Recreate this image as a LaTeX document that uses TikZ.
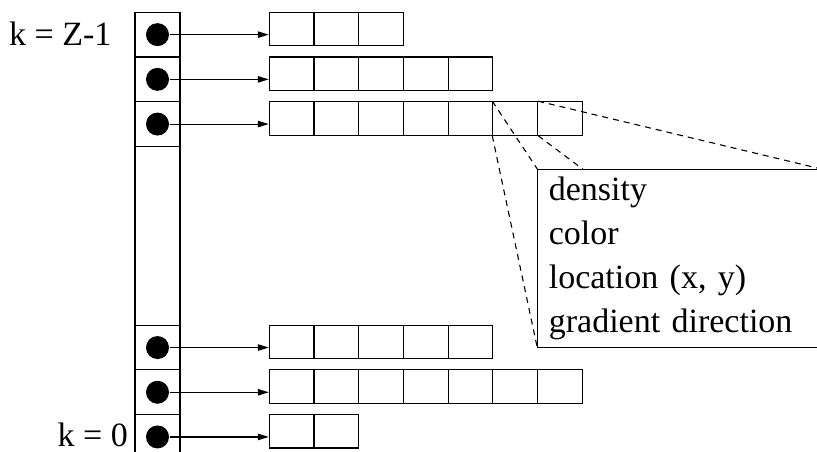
\documentclass[tikz,border=0pt]{standalone}
\usepackage{fontspec}
\setmainfont{Liberation Serif}
\usetikzlibrary{arrows.meta,backgrounds}

\tikzset{
  slot/.style={draw, minimum width=45pt, minimum height=44.7pt, inner sep=0pt},
  cell/.style={draw, minimum width=44.7pt, minimum height=33.4pt, inner sep=0pt},
  dot/.style={circle, fill=black, minimum size=23pt, inner sep=0pt},
  ptr/.style={-{Triangle[length=11pt,width=6.5pt]}},
  zoomline/.style={line width=1.1pt, dash pattern=on 6pt off 5pt},
  lbl/.style={anchor=base east, inner sep=0pt},
}

\begin{document}
\begin{tikzpicture}[x=1pt, y=-1pt, line width=1.1pt, font=\fontsize{34}{44}\selectfont]
\useasboundingbox (0,0) rectangle (817,452);
\clip (0,0) rectangle (817,452);
% bucket column, one pointer per non-empty bucket
\node[slot, minimum height=178.8pt] (gap) at (157.5,235.8) {};
\foreach \s/\n [count=\r] in {0/3,1/5,2/7,7/5,8/7,9/2} {
  \node[slot] (s\r) at (157.5,{12.3+44.7*(\s+0.5)}) {};
  \node[dot] (d\r) at (s\r) {};
  \foreach \c in {1,...,\n}
    \node[cell] (c\r-\c) at ({269.3+44.7*(\c-0.5)},{29+44.7*\s}) {};
  \draw[ptr] (d\r) -- (d\r -| c\r-1.west);
}
\node[lbl] (ktop) at (112,46) {k = Z-1};
\node[lbl] (kbot) at (128.3,446) {k = 0};
% fields of one entry
\node[draw, fill=white, anchor=north west, text width=261pt, inner xsep=11pt, inner ysep=0pt,
      minimum height=177.7pt, align=left] (info) at (537.3,169)
  {density\\color\\location (x, y)\\gradient direction};
\begin{scope}[on background layer]
  \draw[zoomline] (c3-6.north west) -- (info.north west);
  \draw[zoomline] (c3-6.south west) -- (info.south west);
  \draw[zoomline] (c3-6.north east) -- (info.north east);
  \draw[zoomline] (c3-6.south east) -- (info.south east);
\end{scope}
\end{tikzpicture}
\end{document}
